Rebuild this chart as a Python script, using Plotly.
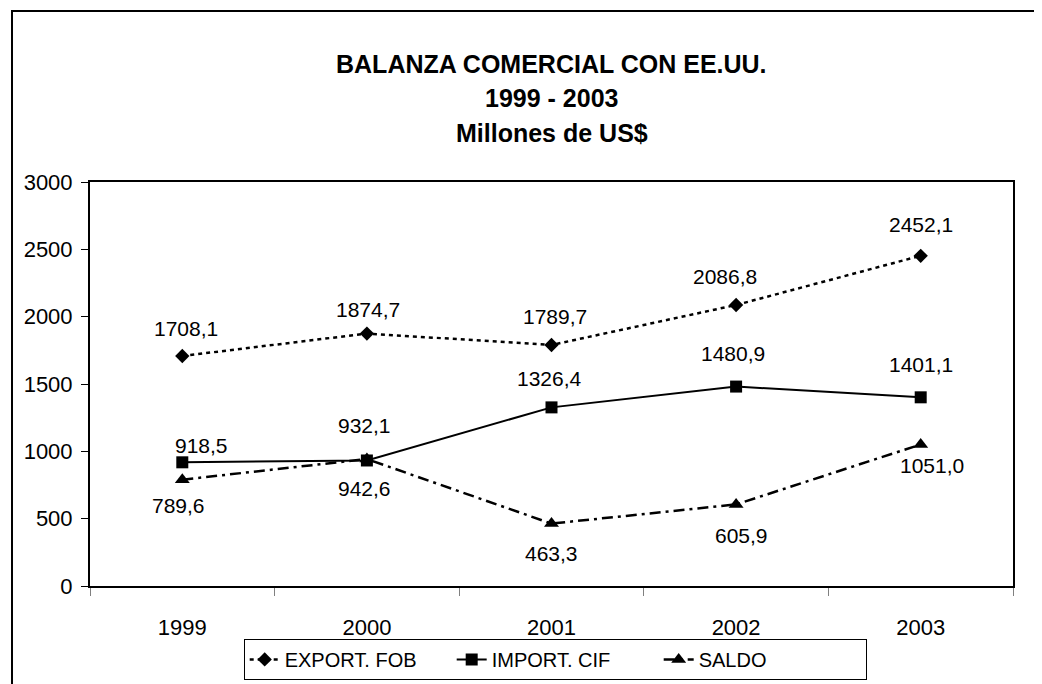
import plotly.graph_objects as go

years = ["1999", "2000", "2001", "2002", "2003"]
export_fob = [1708.1, 1874.7, 1789.7, 2086.8, 2452.1]
import_cif = [918.5, 932.1, 1326.4, 1480.9, 1401.1]
saldo = [789.6, 942.6, 463.3, 605.9, 1051.0]
y_ticks = [0, 500, 1000, 1500, 2000, 2500, 3000]
title_lines = ["BALANZA COMERCIAL CON EE.UU.", "1999 - 2003", "Millones de US$"]

# label offsets in pixels (style only)
export_dx = [4, 1, 3, -11, 0]
export_dy = [27, 24, 28, 28, 31]
import_dx = [19, -2, -2, -3, 0]
import_dy = [17, 35, 29, 33, 33]
saldo_dx = [-4, -2, 0, 5, 11]
saldo_dy = [-26, -29, -30, -31, -21]

FONT = "Liberation Sans, Arial, sans-serif"


def fmt(v):
    return f"{v:.1f}".replace(".", ",")


fig = go.Figure()
fig.add_trace(go.Scatter(
    x=years, y=export_fob, name="EXPORT. FOB", mode="lines+markers",
    line=dict(color="black", width=2.5, dash="4px,4px"),
    marker=dict(symbol="diamond", size=11, color="black"),
))
fig.add_trace(go.Scatter(
    x=years, y=import_cif, name="IMPORT. CIF", mode="lines+markers",
    line=dict(color="black", width=2),
    marker=dict(symbol="square", size=12, color="black"),
))
fig.add_trace(go.Scatter(
    x=years, y=saldo, name="SALDO", mode="lines+markers",
    line=dict(color="black", width=2.5, dash="11px,5px,3px,5px"),
    marker=dict(symbol="triangle-up", size=13, color="black"),
))

annotations = []
for series, dxs, dys in ((export_fob, export_dx, export_dy),
                         (import_cif, import_dx, import_dy),
                         (saldo, saldo_dx, saldo_dy)):
    for i, (v, dx, dy) in enumerate(zip(series, dxs, dys)):
        annotations.append(dict(
            x=i, y=v, xref="x", yref="y", text=fmt(v), showarrow=False,
            xshift=dx, yshift=dy, font=dict(family=FONT, size=21, color="black"),
        ))

for line, shift in zip(title_lines, [118, 84, 49]):
    annotations.append(dict(
        x=0.5, y=1, xref="paper", yref="paper", text=f"<b>{line}</b>",
        showarrow=False, yanchor="middle", yshift=shift,
        font=dict(family=FONT, size=25, color="black"),
    ))

fig.update_layout(
    width=1034, height=676,
    margin=dict(l=82, r=29, t=174, b=98, autoexpand=False),
    paper_bgcolor="white", plot_bgcolor="white",
    font=dict(family=FONT, size=20, color="black"),
    showlegend=True,
    legend=dict(
        orientation="h", x=0.504, xanchor="center", y=-0.131, yanchor="top",
        bordercolor="black", borderwidth=1, font=dict(family=FONT, size=20, color="black"),
        entrywidth=162, entrywidthmode="pixels",
    ),
    annotations=annotations,
    shapes=[dict(
        type="rect", xref="paper", yref="paper",
        x0=-0.0845, x1=1.2, y0=-0.5, y1=1.4233,
        line=dict(color="black", width=2), fillcolor="rgba(0,0,0,0)", layer="below",
    )],
)

fig.update_xaxes(
    type="category", range=[-0.5, 4.5], tickson="boundaries",
    ticks="outside", ticklen=8, tickcolor="#808080", tickwidth=1,
    showline=True, linecolor="black", linewidth=2, mirror=True,
    showgrid=False, ticklabelstandoff=21, automargin=False,
    tickfont=dict(family=FONT, size=22, color="black"),
)
fig.update_yaxes(
    range=[0, 3000], tickvals=y_ticks, ticks="outside", ticklen=7,
    tickcolor="black", tickwidth=1,
    showline=True, linecolor="black", linewidth=2, mirror=True,
    showgrid=False, zeroline=False, ticklabelstandoff=4, automargin=False,
    tickfont=dict(family=FONT, size=22, color="black"),
)

fig.write_html("out.html", config={"displayModeBar": False})
